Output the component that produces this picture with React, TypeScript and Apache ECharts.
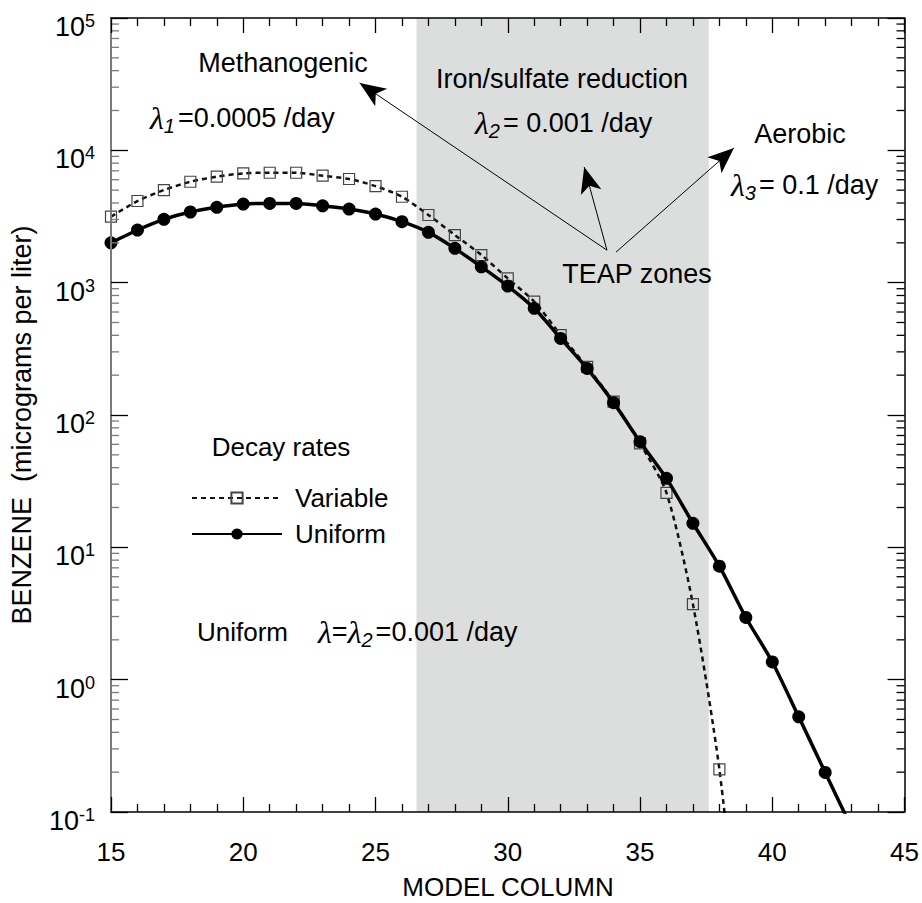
import React, { useEffect, useRef } from 'react';
import * as echarts from 'echarts';

// Benzene concentration along the model columns for two decay-rate setups
const variableColumns = [15, 16, 17, 18, 19, 20, 21, 22, 23, 24, 25, 26, 27, 28, 29, 30, 31, 32, 33, 34, 35, 36, 37, 38, 39];
const variableBenzene = [3150, 4140, 5010, 5790, 6320, 6700, 6770, 6770, 6430, 6070, 5370, 4460, 3245, 2290, 1617, 1077, 720, 402, 231, 126, 61, 25.8, 3.72, 0.21, 0.003];

const uniformColumns = [15, 16, 17, 18, 19, 20, 21, 22, 23, 24, 25, 26, 27, 28, 29, 30, 31, 32, 33, 34, 35, 36, 37, 38, 39, 40, 41, 42, 43];
const uniformBenzene = [2000, 2500, 3010, 3420, 3710, 3930, 3970, 3970, 3810, 3600, 3300, 2890, 2400, 1817, 1318, 942, 640, 379, 225, 124, 62.8, 33.2, 15.2, 7.2, 2.95, 1.36, 0.524, 0.199, 0.076];

// Iron/sulfate reduction zone (model columns)
const teapZone = [26.55, 37.6];

// Annotation arrows from the "TEAP zones" label: [tail, head] in (column, benzene)
const teapArrows = [
  [[33.75, 1760], [24.4, 32300]],
  [[33.75, 1760], [32.89, 7480]],
  [[34.09, 1700], [38.55, 10400]],
];

const xTicks = { min: 15, max: 45, interval: 5 };
const yRange = { min: 0.1, max: 100000 };

const FONT = '"Liberation Sans", Arial, Helvetica, sans-serif';
const LAMBDA_FONT = '"Liberation Serif", "Times New Roman", serif';
const LEFT_AXIS = '#7a7a7a';

// minor log ticks 2..9 within every decade
const yMinorTicks: number[] = [];
for (let e = -1; e < 5; e++) {
  for (let m = 2; m <= 9; m++) yMinorTicks.push(m * Math.pow(10, e));
}

const lambdaRich = {
  l: { fontFamily: LAMBDA_FONT, fontStyle: 'italic', fontSize: 32, lineHeight: 36, verticalAlign: 'middle', fill: '#000' },
  s: { fontFamily: FONT, fontStyle: 'italic', fontSize: 20, lineHeight: 16, verticalAlign: 'bottom', fill: '#000', padding: [0, 3, 0, 0] },
  t: { fontFamily: FONT, fontSize: 27, lineHeight: 36, verticalAlign: 'middle', fill: '#000' },
};

function label(text: string, x: number, y: number, align: string = 'center', size: number = 27) {
  return {
    type: 'text',
    x,
    y,
    z: 100,
    silent: true,
    style: { text, fontSize: size, fontFamily: FONT, fill: '#000', align, verticalAlign: 'middle' },
  };
}

function lambdaLabel(text: string, x: number, y: number) {
  return {
    type: 'text',
    x,
    y,
    z: 100,
    silent: true,
    style: { text, align: 'left', verticalAlign: 'middle', rich: lambdaRich },
  };
}

export default function App() {
  const ref = useRef<HTMLDivElement>(null);

  useEffect(() => {
    if (!ref.current) return;
    const chart = echarts.init(ref.current, null, { renderer: 'svg' });

    const variableData = variableColumns.map((c, i) => [c, variableBenzene[i]]);
    const uniformData = uniformColumns.map((c, i) => [c, uniformBenzene[i]]);

    const xAxisBase = {
      type: 'value',
      min: xTicks.min,
      max: xTicks.max,
      interval: xTicks.interval,
      z: 10,
      axisLine: { show: true, onZero: false, lineStyle: { color: '#000', width: 1.5 } },
      axisTick: { show: true, inside: true, length: 15, lineStyle: { color: '#000', width: 1.3 } },
      minorTick: { show: true, splitNumber: 5, length: 8, lineStyle: { color: '#000', width: 1.3 } },
      splitLine: { show: false },
      minorSplitLine: { show: false },
    };

    const yAxisBase = {
      type: 'log',
      logBase: 10,
      min: yRange.min,
      max: yRange.max,
      splitNumber: 6,
      z: 10,
      axisTick: { show: true, inside: true, length: 17, lineStyle: { color: '#000', width: 1.3 } },
      splitLine: { show: false },
    };

    chart.setOption({
      animation: false,
      backgroundColor: '#fff',
      grid: { left: 111, right: 16, top: 18, bottom: 91, containLabel: false },
      xAxis: [
        {
          ...xAxisBase,
          position: 'bottom',
          axisLabel: { fontSize: 26, color: '#000', fontFamily: FONT, margin: 27 },
        },
        { ...xAxisBase, position: 'top', axisLabel: { show: false } },
      ],
      yAxis: [
        {
          ...yAxisBase,
          position: 'left',
          axisLine: { show: true, onZero: false, lineStyle: { color: LEFT_AXIS, width: 2 } },
          axisLabel: {
            margin: 16,
            padding: [18, 0, 0, 0],
            formatter: (v: number) => `{b|10}{s|${Math.round(Math.log10(v))}}`,
            rich: {
              b: { fontSize: 27, lineHeight: 30, fontFamily: FONT, color: '#000' },
              s: { fontSize: 18, lineHeight: 14, verticalAlign: 'top', fontFamily: FONT, color: '#000' },
            },
          },
        },
        {
          ...yAxisBase,
          position: 'right',
          axisLine: { show: true, onZero: false, lineStyle: { color: '#000', width: 1.5 } },
          axisLabel: { show: false },
        },
      ],
      legend: {
        data: ['Variable', 'Uniform'],
        orient: 'vertical',
        left: 186,
        top: 480,
        itemWidth: 90,
        itemHeight: 14,
        itemGap: 10,
        selectedMode: false,
        textStyle: { fontSize: 26, fontFamily: FONT, color: '#000', padding: [0, 0, 0, 8] },
      },
      graphic: [
        label('Methanogenic', 283, 63),
        label('Iron/sulfate reduction', 562, 79),
        lambdaLabel('{l|λ}{s|1}{t|=0.0005 /day}', 150, 118),
        lambdaLabel('{l|λ}{s|2}{t|= 0.001 /day}', 475, 123),
        label('Aerobic', 800, 134),
        lambdaLabel('{l|λ}{s|3}{t|= 0.1 /day}', 731, 185),
        label('TEAP zones', 637, 274),
        label('Decay rates', 281, 447, 'center', 26),
        label('Uniform', 197, 632, 'left', 26),
        lambdaLabel('{l|λ}{t|=}{l|λ}{s|2}{t|=0.001 /day}', 318, 632),
        label('MODEL COLUMN', 508, 887, 'center', 26),
        {
          type: 'text',
          x: 22,
          y: 425,
          rotation: Math.PI / 2,
          z: 100,
          silent: true,
          style: {
            text: 'BENZENE  (micrograms per liter)',
            fontSize: 27,
            fontFamily: FONT,
            fill: '#000',
            align: 'center',
            verticalAlign: 'middle',
          },
        },
      ],
      series: [
        {
          name: 'zone',
          type: 'line',
          data: [],
          z: 1,
          silent: true,
          markArea: {
            silent: true,
            itemStyle: { color: '#dcdddd' },
            data: [[{ xAxis: teapZone[0] }, { xAxis: teapZone[1] }]],
          },
        },
        {
          name: 'minorTicks',
          type: 'custom',
          z: 9,
          silent: true,
          clip: false,
          data: yMinorTicks.map((v) => [xTicks.min, v]),
          renderItem: (params: any, api: any) => {
            const cs = params.coordSys;
            const y = api.coord([xTicks.min, api.value(1)])[1];
            return {
              type: 'group',
              children: [
                { type: 'line', shape: { x1: cs.x, y1: y, x2: cs.x + 8, y2: y }, style: { stroke: LEFT_AXIS, lineWidth: 1.3 } },
                { type: 'line', shape: { x1: cs.x + cs.width - 8, y1: y, x2: cs.x + cs.width, y2: y }, style: { stroke: '#000', lineWidth: 1.3 } },
              ],
            };
          },
        },
        {
          name: 'Variable',
          type: 'line',
          data: variableData,
          smooth: 0.25,
          symbol: 'rect',
          symbolSize: 11,
          showAllSymbol: true,
          clip: true,
          z: 3,
          lineStyle: { color: '#111', width: 2.5, type: [5, 4] },
          itemStyle: { color: 'rgba(255,255,255,0)', borderColor: '#444', borderWidth: 1.2 },
        },
        {
          name: 'Uniform',
          type: 'line',
          data: uniformData,
          smooth: 0.25,
          symbol: 'circle',
          symbolSize: 13,
          showAllSymbol: true,
          clip: true,
          z: 4,
          lineStyle: { color: '#000', width: 3.5 },
          itemStyle: { color: '#000' },
        },
        {
          name: 'arrows',
          type: 'line',
          data: [],
          z: 5,
          silent: true,
          markLine: {
            silent: true,
            symbol: ['none', 'arrow'],
            symbolSize: [16, 26],
            label: { show: false },
            lineStyle: { color: '#000', width: 1, type: 'solid' },
            data: teapArrows.map(([a, b]) => [{ coord: a }, { coord: b }]),
          },
        },
      ],
    });

    return () => chart.dispose();
  }, []);

  return (
    <div
      ref={ref}
      style={{ position: 'absolute', left: 0, top: 0, width: 922, height: 903, background: '#fff' }}
    />
  );
}
